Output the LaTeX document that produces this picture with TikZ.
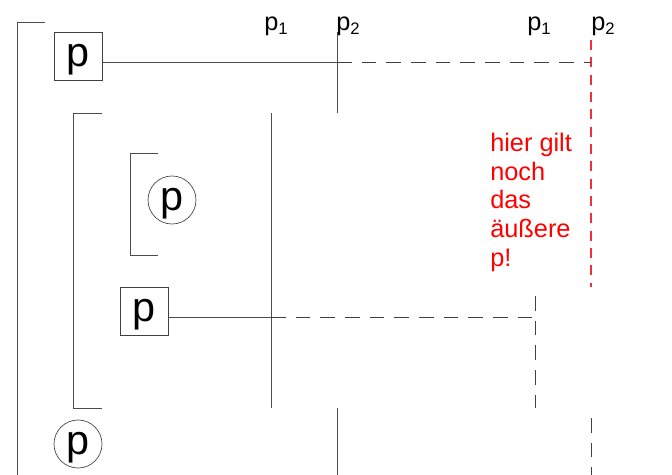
\documentclass[tikz,border=0pt]{standalone}
\usepackage{fontspec}
\setmainfont{Liberation Sans}
\usetikzlibrary{positioning}
\definecolor{hintred}{HTML}{F03040}
\newcommand{\pmark}[1]{p\raisebox{-3pt}{\fontsize{12.5}{12.5}\selectfont #1}}
\tikzset{
	scopeline/.style={draw=black!70, line width=0.6pt},
	bindline/.style={draw=black!70, line width=0.6pt},
	usedash/.style={draw=black!75, line width=0.7pt, dash pattern=on 11pt off 7.5pt},
	reddash/.style={draw=hintred, line width=0.8pt, dash pattern=on 7.5pt off 5.5pt},
	declbox/.style={draw=black!75, line width=0.5pt, minimum size=36pt, inner sep=0pt,
		font=\fontsize{31}{31}\selectfont, text height=22pt, text depth=6pt},
	usecircle/.style={declbox, circle},
	marker/.style={inner sep=0pt, anchor=base west, font=\fontsize{19}{19}\selectfont},
}

\begin{document}
\begin{tikzpicture}[x=0.75pt, y=-0.75pt]
		\useasboundingbox (0,0) rectangle (672,475);

		% Scopes
		\draw[scopeline] (45,22) -- (17,22) -- (17,475);
		\draw[scopeline] (102,113) -- (73,113) -- (73,408) -- (102,408);
		\draw[scopeline] (158,153) -- (130,153) -- (130,255) -- (158,255);

		% Declarations and uses
		\node[declbox] (pouter) at (78,56) {p};
		\node[usecircle] (puseA) at (172,200) {p};
		\node[declbox] (pinner) at (144,311) {p};
		\node[usecircle] (puseB) at (78,444) {p};

		% Markers
		\node[marker] (l1) at (264,30) {\pmark{1}};
		\node[marker] (l2) at (336,30) {\pmark{2}};
		\node[marker] (r1) at (527,30) {\pmark{1}};
		\node[marker] (r2) at (591,30) {\pmark{2}};

		\coordinate (p2top) at (337,32);
		\coordinate (p2mid) at (337,113);
		\coordinate (p2low) at (337,408);
		\coordinate (p2bot) at (337,475);
		\coordinate (p1top) at (271,113);
		\coordinate (p1bot) at (271,408);
		\coordinate (q1top) at (535,296);
		\coordinate (q1bot) at (535,408);
		\coordinate (q2top) at (591,40);
		\coordinate (q2mid) at (591,287);
		\coordinate (q2low) at (591,418);
		\coordinate (q2bot) at (591,475);
		\coordinate (hitA) at (337,62);
		\coordinate (endA) at (591,62);
		\coordinate (hitB) at (271,317);
		\coordinate (endB) at (535,317);

		\draw[bindline] (p2top) -- (p2mid);
		\draw[bindline] (p2low) -- (p2bot);
		\draw[bindline] (p1top) -- (p1bot);
		\draw[usedash] (q1top) -- (q1bot);
		\draw[reddash] (q2top) -- (q2mid);
		\draw[usedash] (q2low) -- (q2bot);

		\draw[bindline] (pouter.east |- hitA) -- (hitA);
		\draw[usedash] (hitA) -- (endA);
		\draw[bindline] (pinner.east |- hitB) -- (hitB);
		\draw[usedash] (hitB) -- (endB);

		\node[anchor=north west, inner sep=0pt, align=left, text=red,
			font=\fontsize{19}{21.5}\selectfont] (note) at (490,133)
			{hier gilt\\noch\\das\\äußere\\p!};
	\end{tikzpicture}
\end{document}
